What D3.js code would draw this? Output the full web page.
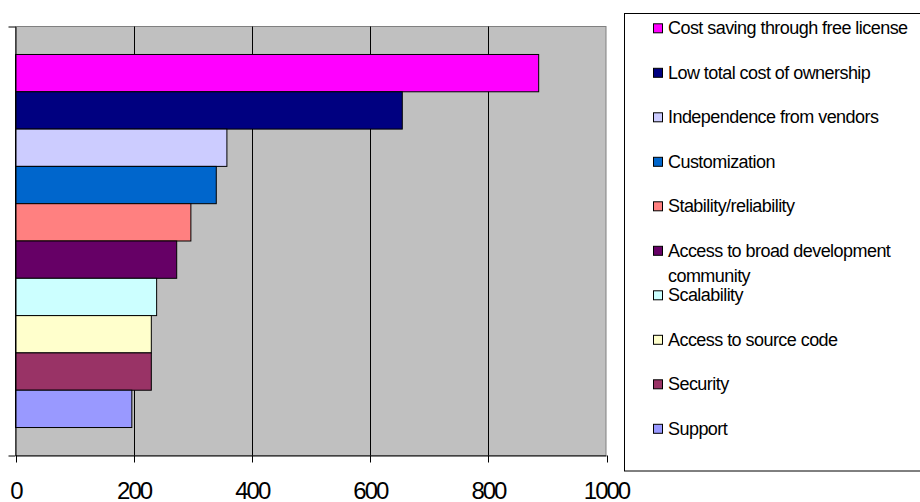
<!DOCTYPE html>
<html>
<head>
<meta charset="utf-8">
<script src="https://cdn.jsdelivr.net/npm/d3@7"></script>
<style>
  body { margin: 0; background: #fff; }
  text { font-family: "Liberation Sans", Arial, sans-serif; }
</style>
</head>
<body>
<div id="chart"></div>
<script>
// Datos
const reasons = [
  "Cost saving through free license",
  "Low total cost of ownership",
  "Independence from vendors",
  "Customization",
  "Stability/reliability",
  "Access to broad development community",
  "Scalability",
  "Access to source code",
  "Security",
  "Support"
]
const counts = [886, 655, 358, 340, 297, 273, 239, 230, 230, 197]
const colors = ["#FF00FF", "#000080", "#CCCCFF", "#0066CC", "#FF8080",
                "#660066", "#CCFFFF", "#FFFFCC", "#993366", "#9999FF"]
const xTicks = [0, 200, 400, 600, 800, 1000]

// Constantes
const width = 920
const height = 502
const plot = { left: 15.5, right: 606, top: 26.5, bottom: 455.5 }

// svg
const svg = d3.select("div#chart")
  .append("svg")
  .attr("width", width)
  .attr("height", height)

// Escalas
const x = d3.scaleLinear()
  .domain([0, 1000])
  .range([plot.left, plot.right])
const y = d3.scaleBand()
  .domain(reasons)
  .range([plot.top, plot.bottom])
  .paddingInner(0)
  .paddingOuter(0.75)
const color = d3.scaleOrdinal().domain(reasons).range(colors)

// Fondo del área de trazado
svg.append("rect")
  .attr("x", plot.left)
  .attr("y", plot.top)
  .attr("width", plot.right - plot.left)
  .attr("height", plot.bottom - plot.top)
  .attr("fill", "#C0C0C0")
  .attr("stroke", "#808080")
  .attr("stroke-width", 1)

// Líneas de cuadrícula
svg.append("g")
  .selectAll("line")
  .data(xTicks.slice(1, -1))
  .join("line")
  .attr("x1", d => Math.round(x(d)) + 0.5)
  .attr("x2", d => Math.round(x(d)) + 0.5)
  .attr("y1", plot.top)
  .attr("y2", plot.bottom)
  .attr("stroke", "#000")
  .attr("stroke-width", 1)

// Barras
svg.append("g")
  .selectAll("rect")
  .data(reasons)
  .join("rect")
  .attr("x", x(0))
  .attr("y", d => y(d))
  .attr("width", (d, i) => x(counts[i]) - x(0))
  .attr("height", y.bandwidth())
  .attr("fill", d => color(d))
  .attr("stroke", "#000")
  .attr("stroke-width", 1)

// Ejes
const xAxis = d3.axisBottom(x)
  .tickValues(xTicks)
  .tickFormat(d3.format("d"))
  .tickSize(7)
  .tickPadding(19)
  .tickSizeOuter(0)
const xAxisGroup = svg.append("g")
  .attr("transform", `translate(0,${plot.bottom})`)
  .call(xAxis)
xAxisGroup.select(".domain").attr("stroke", "#000")
xAxisGroup.selectAll(".tick line")
  .attr("stroke", "#000")
  .attr("transform", function () {
    const t = d3.select(this.parentNode).attr("transform")
    const tx = +t.match(/translate\(([^,]+)/)[1]
    return `translate(${Math.round(tx) + 0.5 - tx},0)`
  })
xAxisGroup.selectAll(".tick text")
  .attr("font-size", 24)
  .attr("letter-spacing", -2)
  .attr("fill", "#000")
  .attr("font-family", "Liberation Sans, Arial, sans-serif")

const yEdge = d3.scaleLinear().domain([0, 1]).range([plot.bottom, plot.top])
const yAxis = d3.axisLeft(yEdge)
  .tickValues([0, 1])
  .tickSize(7)
  .tickSizeOuter(0)
  .tickFormat("")
svg.append("g")
  .attr("transform", `translate(${plot.left},0)`)
  .call(yAxis)
  .selectAll("path, line")
  .attr("stroke", "#000")

// Leyenda
const legend = svg.append("g")
legend.append("rect")
  .attr("x", 624.5)
  .attr("y", 13.5)
  .attr("width", 300)
  .attr("height", 457.5)
  .attr("fill", "#fff")
  .attr("stroke", "#000")
  .attr("stroke-width", 1)

const legendRows = legend.selectAll("g.item")
  .data(reasons)
  .join("g")
  .attr("class", "item")
  .attr("transform", (d, i) => `translate(653.5,${34.3 + i * 44.5})`)

legendRows.append("rect")
  .attr("x", 0)
  .attr("y", -10.5)
  .attr("width", 9)
  .attr("height", 9)
  .attr("fill", d => color(d))
  .attr("stroke", "#000")
  .attr("stroke-width", 1)

legendRows.append("text")
  .attr("x", 14.5)
  .attr("y", 0)
  .attr("font-size", 18)
  .attr("letter-spacing", -0.55)
  .attr("fill", "#000")
  .each(function (d) {
    // partir el texto si es demasiado largo
    const t = d3.select(this)
    const words = d.split(" ")
    let line = []
    let tspan = t.append("tspan").attr("x", 14.5).attr("dy", 0)
    words.forEach(w => {
      line.push(w)
      tspan.text(line.join(" "))
      if (tspan.node().getComputedTextLength() > 245 && line.length > 1) {
        line.pop()
        tspan.text(line.join(" "))
        line = [w]
        tspan = t.append("tspan").attr("x", 14.5).attr("dy", 25).text(w)
      }
    })
  })
</script>
</body>
</html>
